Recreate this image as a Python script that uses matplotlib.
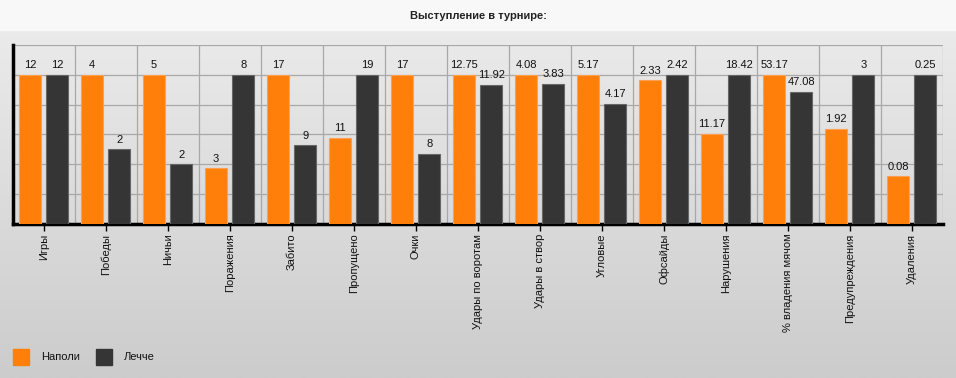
import numpy as np
import matplotlib.pyplot as plt

plt.rcParams['font.family'] = ['Liberation Sans', 'DejaVu Sans']

# data
categories = ['Игры', 'Победы', 'Ничьи', 'Поражения', 'Забито', 'Пропущено', 'Очки',
              'Удары по воротам', 'Удары в створ', 'Угловые', 'Офсайды', 'Нарушения',
              '% владения мячом', 'Предупреждения', 'Удаления']
napoli = [12, 4, 5, 3, 17, 11, 17, 12.75, 4.08, 5.17, 2.33, 11.17, 53.17, 1.92, 0.08]
lecce = [12, 2, 2, 8, 9, 19, 8, 11.92, 3.83, 4.17, 2.42, 18.42, 47.08, 3, 0.25]
labels_napoli = ['12', '4', '5', '3', '17', '11', '17', '12.75', '4.08', '5.17', '2.33',
                 '11.17', '53.17', '1.92', '0.08']
labels_lecce = ['12', '2', '2', '8', '9', '19', '8', '11.92', '3.83', '4.17', '2.42',
                '18.42', '47.08', '3', '0.25']
team_names = ['Наполи', 'Лечче']

orange = '#ff7f0a'
dark = '#353535'

# each category scaled to its own max
n = np.array(napoli, dtype=float)
l = np.array(lecce, dtype=float)
mx = np.maximum(n, l)
n_h = n / mx
l_h = l / mx

fig = plt.figure(figsize=(9.56, 3.78), dpi=100)

# background gradient
bg = fig.add_axes([0, 0, 1, 1], zorder=-10)
grad = np.linspace(0.93, 0.80, 256).reshape(-1, 1)
bg.imshow(np.dstack([grad, grad, grad]), aspect='auto', extent=[0, 1, 0, 1])
bg.axhspan(1 - 30 / 378, 1, color='#f8f8f8')
bg.set_xlim(0, 1)
bg.set_ylim(0, 1)
bg.axis('off')

fig.text(0.5, 1 - 16 / 378, 'Выступление в турнире:', ha='center', va='center',
         fontsize=8, fontweight='bold', color='#222222')

ax = fig.add_axes([13 / 956, 1 - 224 / 378, 930 / 956, 179 / 378])
ax.patch.set_alpha(0)

x = np.arange(len(categories))
w = 0.355
ax.bar(x - 0.225, n_h, w, color=orange, edgecolor='#ffa050', linewidth=0.8, zorder=3)
ax.bar(x + 0.215, l_h, w, color=dark, edgecolor='#666666', linewidth=0.8, zorder=3)

for i in range(len(categories)):
    ax.text(x[i] - 0.225, n_h[i] + 0.03, labels_napoli[i], ha='center', va='bottom',
            fontsize=8, color='#111111')
    ax.text(x[i] + 0.215, l_h[i] + 0.03, labels_lecce[i], ha='center', va='bottom',
            fontsize=8, color='#111111')

ax.set_xlim(-0.5, len(categories) - 0.5)
ax.set_ylim(0, 1.2)
ax.set_yticks(np.arange(0.2, 1.21, 0.2))
ax.set_yticklabels([])
ax.tick_params(axis='y', length=0)
for yy in np.arange(0.2, 1.21, 0.2):
    ax.axhline(yy, color='#a8a8a8', linewidth=0.9, zorder=1)
for xx in np.arange(0.5, len(categories), 1.0):
    ax.axvline(xx, color='#a8a8a8', linewidth=0.9, zorder=1)

ax.set_xticks(x)
ax.set_xticklabels(categories, rotation=90, fontsize=8, color='#111111')
ax.tick_params(axis='x', length=5, width=1, color='black', pad=2)

ax.spines['left'].set_linewidth(2.5)
ax.spines['bottom'].set_linewidth(2.5)
ax.spines['top'].set_visible(False)
ax.spines['right'].set_visible(False)

# legend
fig.patches.append(plt.Rectangle((13 / 956, 1 - 365 / 378), 16 / 956, 16 / 378,
                                 transform=fig.transFigure, color=orange))
fig.text(41 / 956, 1 - 357 / 378, team_names[0], va='center', fontsize=8, color='#111111')
fig.patches.append(plt.Rectangle((96 / 956, 1 - 365 / 378), 16 / 956, 16 / 378,
                                 transform=fig.transFigure, color=dark))
fig.text(124 / 956, 1 - 357 / 378, team_names[1], va='center', fontsize=8, color='#111111')

fig.savefig('out.png', dpi=100)
